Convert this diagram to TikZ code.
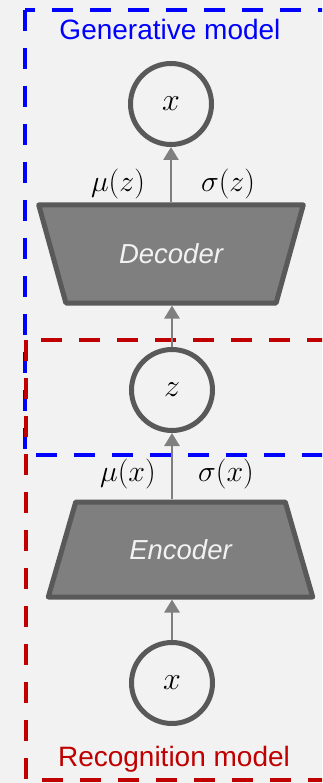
\RequirePackage{fix-cm}
\documentclass[tikz,border=0pt]{standalone}
\usepackage{fontspec}
\setmainfont{Liberation Sans}
\usetikzlibrary{shapes.geometric,arrows.meta}
\definecolor{bggray}{HTML}{F2F2F2}
\definecolor{rimgray}{HTML}{595959}
\definecolor{bodygray}{HTML}{7F7F7F}
\definecolor{genblue}{HTML}{0000FF}
\definecolor{recred}{HTML}{C00000}

\begin{document}
\begin{tikzpicture}[
  x=1pt, y=-1pt,
  var/.style={circle, draw=rimgray, line width=5pt, minimum size=81pt,
              inner sep=0pt, font=\fontsize{32}{34}\selectfont},
  net/.style={trapezium, trapezium stretches=true, draw=rimgray, fill=bodygray,
              line width=5pt, line join=round, minimum width=265pt,
              trapezium angle=62, text=bggray, font=\fontsize{27.5}{32}\selectfont\itshape},
  arr/.style={-{Triangle[width=15pt,length=13pt]}, line width=2.7pt, draw=bodygray, fill=bodygray},
  lab/.style={font=\fontsize{30}{34}\selectfont},
  modelbox/.style={line width=4.5pt, dash pattern=on 21pt off 17pt},
  title/.style={anchor=base, font=\fontsize{28}{32}\selectfont}
]
\useasboundingbox (0,0) rectangle (322,783);
\fill[bggray] (0,0) rectangle (322,783);
\clip (0,0) rectangle (322,783);

% model regions
\draw[modelbox, genblue] (25,10) rectangle (345,455);
\draw[modelbox, recred] (26,340) rectangle (345,780);
\node[title, text=genblue] (gen) at (170,40) {Generative model};
\node[title, text=recred] (rec) at (174,766) {Recognition model};

% variables and networks
\node[var] (xtop) at (171,104) {$x$};
\node[net, shape border rotate=180, minimum height=98pt] (dec) at (171,254) {Decoder};
\node[var] (zlat) at (172,390) {$z$};
\node[net, minimum height=95pt] (enc) at (180.5,549.5) {Encoder};
\node[var] (xin) at (172,683) {$x$};

% outputs of the networks
\node[lab] (muz) at (118,184) {$\mu(z)$};
\node[lab] (sigz) at (228,184) {$\sigma(z)$};
\node[lab] (mux) at (128,474) {$\mu(x)$};
\node[lab] (sigx) at (226,474) {$\sigma(x)$};

% flow
\draw[arr] (xin) -- (xin |- enc.south);
\draw[arr] (enc.north -| zlat) -- (zlat);
\draw[arr] (zlat) -- (zlat |- dec.south);
\draw[arr] (dec.north -| xtop) -- (xtop);

\end{tikzpicture}
\end{document}
